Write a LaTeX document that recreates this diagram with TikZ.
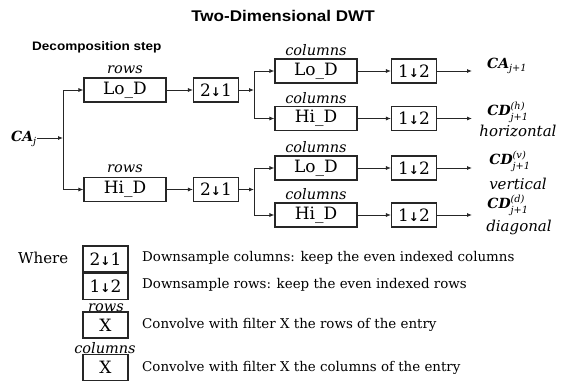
\documentclass[tikz,border=0pt]{standalone}
\usepackage{fontspec}
\usepackage{amsmath}
\setmainfont{DejaVu Serif}
\newfontfamily\titlefont{Liberation Sans}[FakeStretch=1.1]
\newfontfamily\arrowfont{DejaVu Sans}
\usetikzlibrary{arrows.meta}
\newcommand\boxfont{\fontsize{17}{17}\selectfont}
\newcommand\legfont{\fontsize{13.4}{13.4}\selectfont}
\newcommand\dnarrow{{\arrowfont\fontsize{12}{12}\selectfont\bfseries ↓}}
\begin{document}
\begin{tikzpicture}[x=1pt,y=-1pt,
  box/.style={draw=black!85, line width=1.1pt, minimum height=24pt, inner sep=0pt, font=\boxfont},
  wbox/.style={box, minimum width=82pt},
  dbox/.style={box, minimum width=45pt},
  lbl/.style={font=\itshape\fontsize{14.5}{14.5}\selectfont, inner sep=0pt},
  outl/.style={font=\fontsize{14}{14}\selectfont, inner sep=0pt},
  oname/.style={font=\itshape\fontsize{15}{15}\selectfont, inner sep=0pt},
  leg/.style={font=\legfont, inner sep=0pt, anchor=west},
  conn/.style={line width=0.8pt, draw=black!85},
  arr/.style={conn, -{Latex[length=5pt,width=4pt]}}]
\useasboundingbox (0,0) rectangle (563,381);
% titles
\node[font=\titlefont\bfseries\fontsize{15.5}{15.5}\selectfont, inner sep=0pt] (title) at (283,16) {Two-Dimensional DWT};
\node[font=\titlefont\bfseries\fontsize{12.3}{12.3}\selectfont, inner sep=0pt, anchor=west] (decomp) at (32,47) {Decomposition step};
% row filters
\node[wbox] (rlo) at (125,90) {Lo\_D};
\node[dbox] (rd1) at (216,90) {2\dnarrow1};
\node[wbox] (rhi) at (125,189.5) {Hi\_D};
\node[dbox] (rd2) at (216,189.5) {2\dnarrow1};
\node[lbl] (lrlo) at (125,70) {rows};
\node[lbl] (lrhi) at (125,169) {rows};
% column filters
\node[wbox] (clo1) at (316,71) {Lo\_D};
\node[dbox] (cd1) at (414,71) {1\dnarrow2};
\node[wbox] (chi1) at (316,118.5) {Hi\_D};
\node[dbox] (cd2) at (414,118.5) {1\dnarrow2};
\node[wbox] (clo2) at (316,168) {Lo\_D};
\node[dbox] (cd3) at (414,168) {1\dnarrow2};
\node[wbox] (chi2) at (316,215) {Hi\_D};
\node[dbox] (cd4) at (414,215) {1\dnarrow2};
\node[lbl] (lc1) at (316,50) {columns};
\node[lbl] (lc2) at (316,98) {columns};
\node[lbl] (lc3) at (316,147) {columns};
\node[lbl] (lc4) at (316,194) {columns};
% input
\node[outl] (caj) at (24,139) {$\textbf{\textit{CA}}_{\textit{j}}$};
\coordinate (j0) at (63,138);
\coordinate (j1) at (254,90);
\coordinate (j2) at (254,189.5);
\draw[arr] (caj.east |- j0) -- (j0);
\draw[arr] (j0) |- (rlo.west);
\draw[arr] (j0) |- (rhi.west);
\draw[arr] (rlo) -- (rd1);
\draw[arr] (rhi) -- (rd2);
\draw[arr] (rd1) -- (j1);
\draw[arr] (rd2) -- (j2);
\draw[arr] (j1) |- (clo1.west);
\draw[arr] (j1) |- (chi1.west);
\draw[arr] (j2) |- (clo2.west);
\draw[arr] (j2) |- (chi2.west);
\draw[arr] (clo1) -- (cd1);
\draw[arr] (chi1) -- (cd2);
\draw[arr] (clo2) -- (cd3);
\draw[arr] (chi2) -- (cd4);
% outputs
\coordinate (o1) at (472,71);
\coordinate (o2) at (472,118.5);
\coordinate (o3) at (472,168);
\coordinate (o4) at (472,215);
\draw[arr] (cd1) -- (o1);
\draw[arr] (cd2) -- (o2);
\draw[arr] (cd3) -- (o3);
\draw[arr] (cd4) -- (o4);
\node[outl, anchor=west] (ca1) at (487,66) {$\textbf{\textit{CA}}_{\textit{j+1}}$};
\node[outl] (cdh) at (508,112) {$\textbf{\textit{CD}}^{\textit{(h)}}_{\textit{j+1}}$};
\node[oname] (hor) at (518,131) {horizontal};
\node[outl] (cdv) at (510,161) {$\textbf{\textit{CD}}^{\textit{(v)}}_{\textit{j+1}}$};
\node[oname] (ver) at (518,184) {vertical};
\node[outl] (cdd) at (508,205) {$\textbf{\textit{CD}}^{\textit{(d)}}_{\textit{j+1}}$};
\node[oname] (dia) at (519,227) {diagonal};
% legend
\node[leg, font=\fontsize{15}{15}\selectfont] (where) at (18,258) {Where};
\node[dbox, minimum height=26pt] (k1) at (105.5,259) {2\dnarrow1};
\node[leg] (t1) at (142,258) {Downsample columns: keep the even indexed columns};
\node[dbox, minimum height=26pt] (k2) at (105.5,286.5) {1\dnarrow2};
\node[leg] (t2) at (142,285) {Downsample rows: keep the even indexed rows};
\node[lbl] (lk3) at (106,308) {rows};
\node[dbox, minimum height=26pt] (k3) at (105.5,325) {X};
\node[leg] (t3) at (142,325) {Convolve with filter X the rows of the entry};
\node[lbl] (lk4) at (105,348) {columns};
\node[dbox, minimum height=26pt] (k4) at (105.5,367.5) {X};
\node[leg] (t4) at (142,368) {Convolve with filter X the columns of the entry};
\end{tikzpicture}
\end{document}
